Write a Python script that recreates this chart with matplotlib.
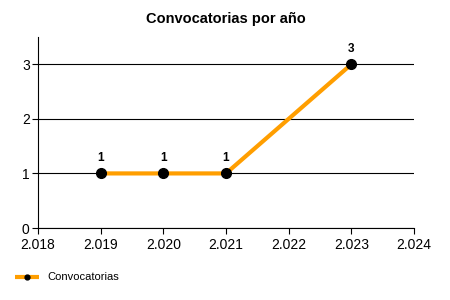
import matplotlib
matplotlib.use("Agg")
import matplotlib.pyplot as plt
from matplotlib.ticker import FuncFormatter

# data
years = [2019, 2020, 2021, 2023]
convocatorias = [1, 1, 1, 3]
series_name = "Convocatorias"
title = "Convocatorias por año"

plt.rcParams['font.family'] = ['Liberation Sans', 'DejaVu Sans']

fig = plt.figure(figsize=(4.5, 3), dpi=100)
ax = fig.add_axes([38/450, 1 - 228/300, 376/450, 191/300])

ax.plot(years, convocatorias, color='#ff9e00', lw=3, marker='o',
        markersize=7, markerfacecolor='black', markeredgecolor='black',
        label=series_name, solid_capstyle='butt', zorder=3)
for x, y in zip(years, convocatorias):
    ax.annotate(str(y), (x, y), xytext=(0, 7), textcoords='offset points',
                ha='center', va='bottom', fontsize=8.5, fontweight='bold')

ax.set_xlim(2018, 2024)
ax.set_ylim(0, 3.5)
ax.set_yticks([0, 1, 2, 3])
ax.set_xticks(range(2018, 2025))
ax.xaxis.set_major_formatter(FuncFormatter(lambda v, p: f"{int(v):,}".replace(",", ".")))
ax.grid(axis='y', color='black', lw=0.8)
ax.set_axisbelow(True)
for s in ['top', 'right']:
    ax.spines[s].set_visible(False)
ax.tick_params(labelsize=10, length=4, width=0.8)
ax.tick_params(axis='x', pad=3)
ax.tick_params(axis='y', pad=2)
ax.set_title(title, fontsize=10.5, fontweight='bold', pad=10)

leg = fig.legend(loc='lower left', bbox_to_anchor=(0.01, 0.025), frameon=False,
                 fontsize=8, handlelength=2.2, markerscale=0.5)

fig.savefig("out.png", dpi=100)
